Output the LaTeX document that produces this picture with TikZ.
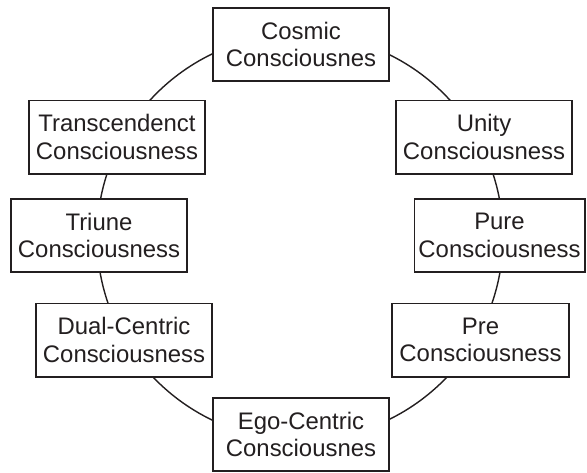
\documentclass[tikz,border=0pt]{standalone}
\usepackage{fontspec}
\setmainfont{Liberation Sans}
\usetikzlibrary{positioning}
\definecolor{inkdark}{HTML}{231F20}
\tikzset{
  stage/.style={draw=inkdark, line width=1.7pt, fill=white, text=inkdark, align=center, minimum width=5.3cm, minimum height=2.19cm, inner sep=0pt, font=\fontsize{20.4}{23.3}\selectfont},
  ring/.style={draw=inkdark, line width=1.2pt}
}

\begin{document}
\begin{tikzpicture}[x=0.03cm, y=-0.03cm]
  \useasboundingbox (0,0) rectangle (587,472);

  % the ring behind the stages
  \coordinate (hub) at (300,237);
  \draw[ring] (hub) circle[radius=6.09cm];

  \node[stage] (cosmic) at (301,44.5) {Cosmic\\Consciousnes};
  \node[stage] (trans) at (117,137) {Transcendenct\\Consciousness};
  \node[stage] (unity) at (484,137) {Unity\\Consciousness};
  \node[stage] (triune) at (99,235.5) {Triune\\Consciousness};
  \node[stage, minimum width=5.1cm] (pure) at (499.5,235.5) {Pure\\Consciousness};
  \node[stage] (dual) at (124,340) {Dual-Centric\\Consciousness};
  \node[stage] (pre) at (480.5,340) {Pre\\Consciousness};
  \node[stage] (ego) at (301,434.5) {Ego-Centric\\Consciousnes};
\end{tikzpicture}
\end{document}
